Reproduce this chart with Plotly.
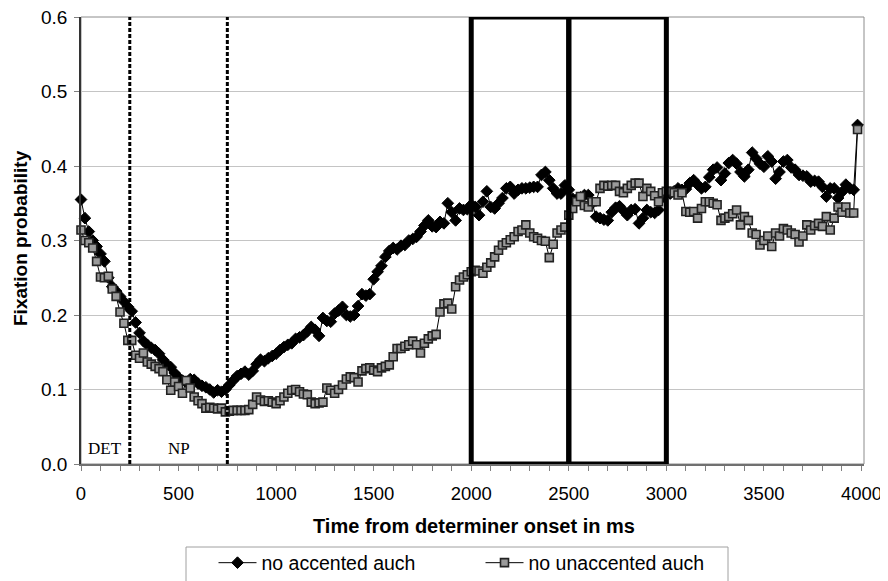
import plotly.graph_objects as go

# Fixation probability, 20 ms bins from determiner onset
accented = [
    .355, .330, .312, .300, .292, .282, .272, .250, .238, .232,
    .225, .218, .211, .205, .190, .176, .165, .160, .156, .153,
    .148, .140, .134, .130, .122, .116, .112, .110, .114, .113,
    .108, .105, .103, .100, .096, .099, .097, .100, .106, .112,
    .118, .121, .124, .120, .125, .134, .140, .138, .142, .145,
    .148, .153, .157, .160, .162, .168, .170, .173, .178, .184,
    .180, .172, .196, .192, .191, .202, .206, .211, .200, .198,
    .200, .212, .228, .226, .228, .248, .258, .266, .278, .286,
    .290, .288, .293, .294, .300, .302, .305, .312, .320, .327,
    .319, .318, .325, .323, .350, .338, .327, .343, .341, .342,
    .348, .345, .334, .352, .366, .345, .343, .350, .357, .370,
    .372, .363, .368, .370, .370, .371, .372, .372, .388, .392,
    .381, .370, .363, .363, .374, .368, .356, .355, .358, .361,
    .361, .350, .332, .330, .328, .327, .338, .344, .346, .340,
    .334, .341, .342, .323, .330, .341, .338, .337, .341, .358,
    .363, .363, .366, .370, .368, .369, .377, .381, .375, .370,
    .372, .385, .395, .398, .381, .390, .404, .408, .403, .392,
    .386, .395, .418, .410, .403, .399, .413, .406, .383, .392,
    .406, .408, .398, .395, .388, .387, .386, .379, .380, .379,
    .372, .359, .370, .370, .357, .365, .375, .370, .368, .455,
]
unaccented = [
    .314, .300, .297, .290, .272, .251, .250, .252, .235, .225,
    .204, .189, .166, .166, .146, .142, .149, .137, .134, .131,
    .128, .124, .113, .099, .110, .104, .095, .112, .102, .090,
    .085, .081, .075, .076, .075, .074, .075, .070, .071, .072,
    .072, .072, .072, .073, .080, .090, .086, .084, .085, .083,
    .081, .085, .090, .095, .099, .100, .097, .094, .093, .083,
    .081, .082, .083, .102, .099, .095, .100, .106, .114, .117,
    .116, .110, .125, .128, .129, .126, .124, .129, .131, .133,
    .144, .155, .155, .158, .160, .165, .160, .149, .162, .168,
    .172, .174, .204, .215, .216, .208, .238, .247, .251, .254,
    .258, .260, .259, .256, .264, .270, .278, .287, .294, .297,
    .301, .305, .312, .314, .321, .310, .305, .303, .300, .299,
    .277, .295, .310, .314, .318, .334, .343, .352, .359, .347,
    .345, .352, .352, .370, .374, .373, .374, .374, .366, .364,
    .370, .374, .377, .377, .359, .370, .366, .360, .352, .364,
    .366, .366, .364, .361, .364, .339, .338, .339, .330, .343,
    .352, .352, .350, .348, .327, .330, .332, .336, .341, .321,
    .332, .327, .310, .308, .294, .300, .306, .292, .310, .306,
    .316, .314, .310, .308, .298, .306, .321, .314, .320, .323,
    .319, .332, .314, .330, .345, .338, .345, .337, .337, .449,
]
bin_ms = 20
time_ms = [i * bin_ms for i in range(len(accented))]

series_names = ["no accented auch", "no unaccented auch"]
segment_bounds = [250, 750]          # DET | NP boundaries (dashed)
segment_labels = [("DET", 125), ("NP", 500)]
windows = [(2000, 2500), (2500, 3000)]   # analysis windows (boxes)

x_ticks = [0, 500, 1000, 1500, 2000, 2500, 3000, 3500, 4000]
y_ticks = [0.0, 0.1, 0.2, 0.3, 0.4, 0.5, 0.6]

SANS = "Liberation Sans, Arial, sans-serif"
SERIF = "Liberation Serif, Times New Roman, serif"

fig = go.Figure()
fig.add_trace(go.Scatter(
    x=time_ms, y=accented, name=series_names[0], mode="lines+markers",
    line=dict(color="black", width=1),
    marker=dict(symbol="diamond", size=9, color="black", line=dict(color="black", width=1)),
    cliponaxis=False,
))
fig.add_trace(go.Scatter(
    x=time_ms, y=unaccented, name=series_names[1], mode="lines+markers",
    line=dict(color="black", width=1),
    marker=dict(symbol="square", size=8, color="#9a9a9a", line=dict(color="#222222", width=1.6)),
    cliponaxis=False,
))

# page layout (the page body adds an 8px offset)
OFF = 8
PAGE_W, PAGE_H = 888, 581
L, R, T, B = 81, 864, 17, 464          # plot area in page pixels
W, H = PAGE_W - OFF, PAGE_H - OFF
pw, ph = R - L, B - T
def px(xp):
    return (xp - L) / pw
def py(yp):
    return (B - yp) / ph

shapes = []
shapes.append(dict(type="rect", xref="paper", yref="paper", x0=0, x1=1, y0=0, y1=1,
                   line=dict(color="#8c8c8c", width=1), layer="below"))
for b in segment_bounds:
    shapes.append(dict(type="line", xref="x", yref="y", x0=b, x1=b, y0=0, y1=0.6,
                       line=dict(color="black", width=3, dash="4px,2px")))
for x0, x1 in windows:
    shapes.append(dict(type="rect", xref="x", yref="y", x0=x0, x1=x1, y0=0, y1=0.6,
                       line=dict(color="black", width=5)))
shapes.append(dict(type="rect", xref="paper", yref="paper",
                   x0=px(186), x1=px(728), y0=py(590), y1=py(547),
                   line=dict(color="#a0a0a0", width=1)))

annotations = []
for txt, xm in segment_labels:
    annotations.append(dict(x=xm, y=0.021, xref="x", yref="y", text=txt, showarrow=False,
                            xanchor="center", yanchor="middle",
                            font=dict(family=SERIF, size=17, color="black")))
annotations.append(dict(x=px(20), y=py(238), xref="paper", yref="paper", textangle=-90,
                        xanchor="center", yanchor="middle",
                        text="<b>Fixation probability</b>", showarrow=False,
                        font=dict(family=SANS, size=19, color="black")))
annotations.append(dict(x=px(474), y=py(526), xref="paper", yref="paper",
                        xanchor="center", yanchor="middle",
                        text="<b>Time from determiner onset in ms</b>", showarrow=False,
                        font=dict(family=SANS, size=20, color="black")))

fig.update_layout(
    width=W, height=H,
    margin=dict(l=L - OFF, r=W - (R - OFF), t=T - OFF, b=H - (B - OFF), pad=0, autoexpand=False),
    paper_bgcolor="white", plot_bgcolor="white",
    font=dict(family=SANS, size=18, color="black"),
    shapes=shapes, annotations=annotations,
    showlegend=True,
    legend=dict(orientation="h", x=px(213.5), xanchor="left", y=py(563), yanchor="middle",
                font=dict(family=SANS, size=19.5, color="black"),
                itemwidth=38, entrywidth=214, bgcolor="rgba(0,0,0,0)", borderwidth=0),
)
fig.update_xaxes(
    range=[0, 4013], tickvals=x_ticks, ticktext=[str(v) for v in x_ticks],
    showgrid=False, zeroline=False, automargin=False, ticklabeloverflow="allow",
    showline=True, linecolor="#707070", linewidth=1.5,
    ticks="outside", ticklen=5, tickcolor="#808080", ticklabelstandoff=7,
    minor=dict(dtick=100, ticks="outside", ticklen=5, tickcolor="#808080", showgrid=False),
    tickfont=dict(family=SANS, size=18.5, color="black"),
)
fig.update_yaxes(
    range=[0, 0.6], tickvals=y_ticks, ticktext=[f"{v:.1f}" for v in y_ticks],
    showgrid=True, gridcolor="#c4c4c4", gridwidth=1, zeroline=False, automargin=False,
    ticklabeloverflow="allow",
    showline=True, linecolor="#333333", linewidth=1.5,
    ticks="outside", ticklen=5, tickcolor="#808080", ticklabelstandoff=3,
    tickfont=dict(family=SANS, size=19, color="black"),
)

fig.write_html("out.html")
